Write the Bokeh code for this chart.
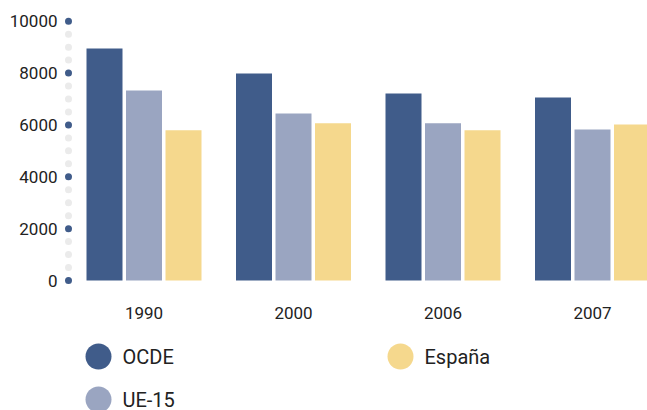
from bokeh.plotting import figure
from bokeh.models import Range1d, FixedTicker
from bokeh.embed import file_html
from bokeh.resources import INLINE
from bokeh.core.properties import value
import numpy as np

# ---- data ----
years = ["1990", "2000", "2006", "2007"]
series = ["OCDE", "UE-15", "España"]
ocde = [8950, 7980, 7210, 7060]
ue15 = [7330, 6440, 6060, 5820]
espana = [5790, 6060, 5790, 6020]
y_ticks = [0, 2000, 4000, 6000, 8000, 10000]
dot_step = 500

colors = ["#405C8A", "#9AA5C1", "#F5D88D"]
DOT_GREY = "#EBEBEB"
FONT = "Roboto"
TXT = "#222222"

# layout helpers (picture pixels -> data units)
GROUP_PX = 149.5          # px between group centres
X0_PX = 143.5             # x of first group centre
Y0_PX = 280.0             # y of value 0
PX_PER_UNIT = 259.3 / 10000
FIG_W, FIG_H = 647, 410
FRAME_LEFT = 62


def dx(px):
    return (px - X0_PX) / GROUP_PX


def dy(py):
    return (Y0_PX - py) / PX_PER_UNIT


p = figure(width=FIG_W, height=FIG_H, output_backend="svg", toolbar_location=None,
           x_range=Range1d(dx(FRAME_LEFT), dx(FIG_W)),
           y_range=Range1d(dy(FIG_H), dy(0)),
           min_border_left=FRAME_LEFT, min_border_right=0,
           min_border_top=0, min_border_bottom=0)

x = np.arange(len(years))
step = 39.5 / GROUP_PX
w = 36 / GROUP_PX
for k, (vals, c) in enumerate(zip([ocde, ue15, espana], colors)):
    p.vbar(x=x + (k - 1) * step, top=vals, bottom=0, width=w,
           fill_color=c, line_color=None)

dot_vals = np.arange(0, y_ticks[-1] + 1, dot_step)
dot_colors = [colors[0] if v in y_ticks else DOT_GREY for v in dot_vals]
p.scatter(x=np.full(len(dot_vals), dx(68)), y=dot_vals, size=7,
          fill_color=dot_colors, line_color=None)

p.xaxis.ticker = FixedTicker(ticks=[int(i) for i in x])
p.xaxis.major_label_overrides = {int(i): yr for i, yr in zip(x, years)}
p.xaxis.fixed_location = dy(290)
p.yaxis.ticker = FixedTicker(ticks=y_ticks)
for ax in (p.xaxis[0], p.yaxis[0]):
    ax.axis_line_color = None
    ax.major_tick_line_color = None
    ax.minor_tick_line_color = None
    ax.major_tick_out = 0
    ax.major_tick_in = 0
    ax.minor_tick_out = 0
    ax.major_label_text_font = FONT
    ax.major_label_text_font_size = "17px"
    ax.major_label_text_color = TXT
p.yaxis.major_label_standoff = 5
p.xaxis.major_label_standoff = 16
p.grid.visible = False
p.outline_line_color = None

# ---- legend (drawn as glyphs below the bars) ----
lx = [dx(98), dx(98), dx(400)]
ly = [dy(356), dy(399), dy(356)]
text_x = [dx(122), dx(122), dx(424)]
p.scatter(x=lx, y=ly, size=26, fill_color=colors, line_color=None)
p.text(x=text_x, y=ly, text=series, text_font=value(FONT),
       text_font_size="20px", text_baseline="middle", text_color=TXT)

open("out.html", "w").write(file_html(p, INLINE))
